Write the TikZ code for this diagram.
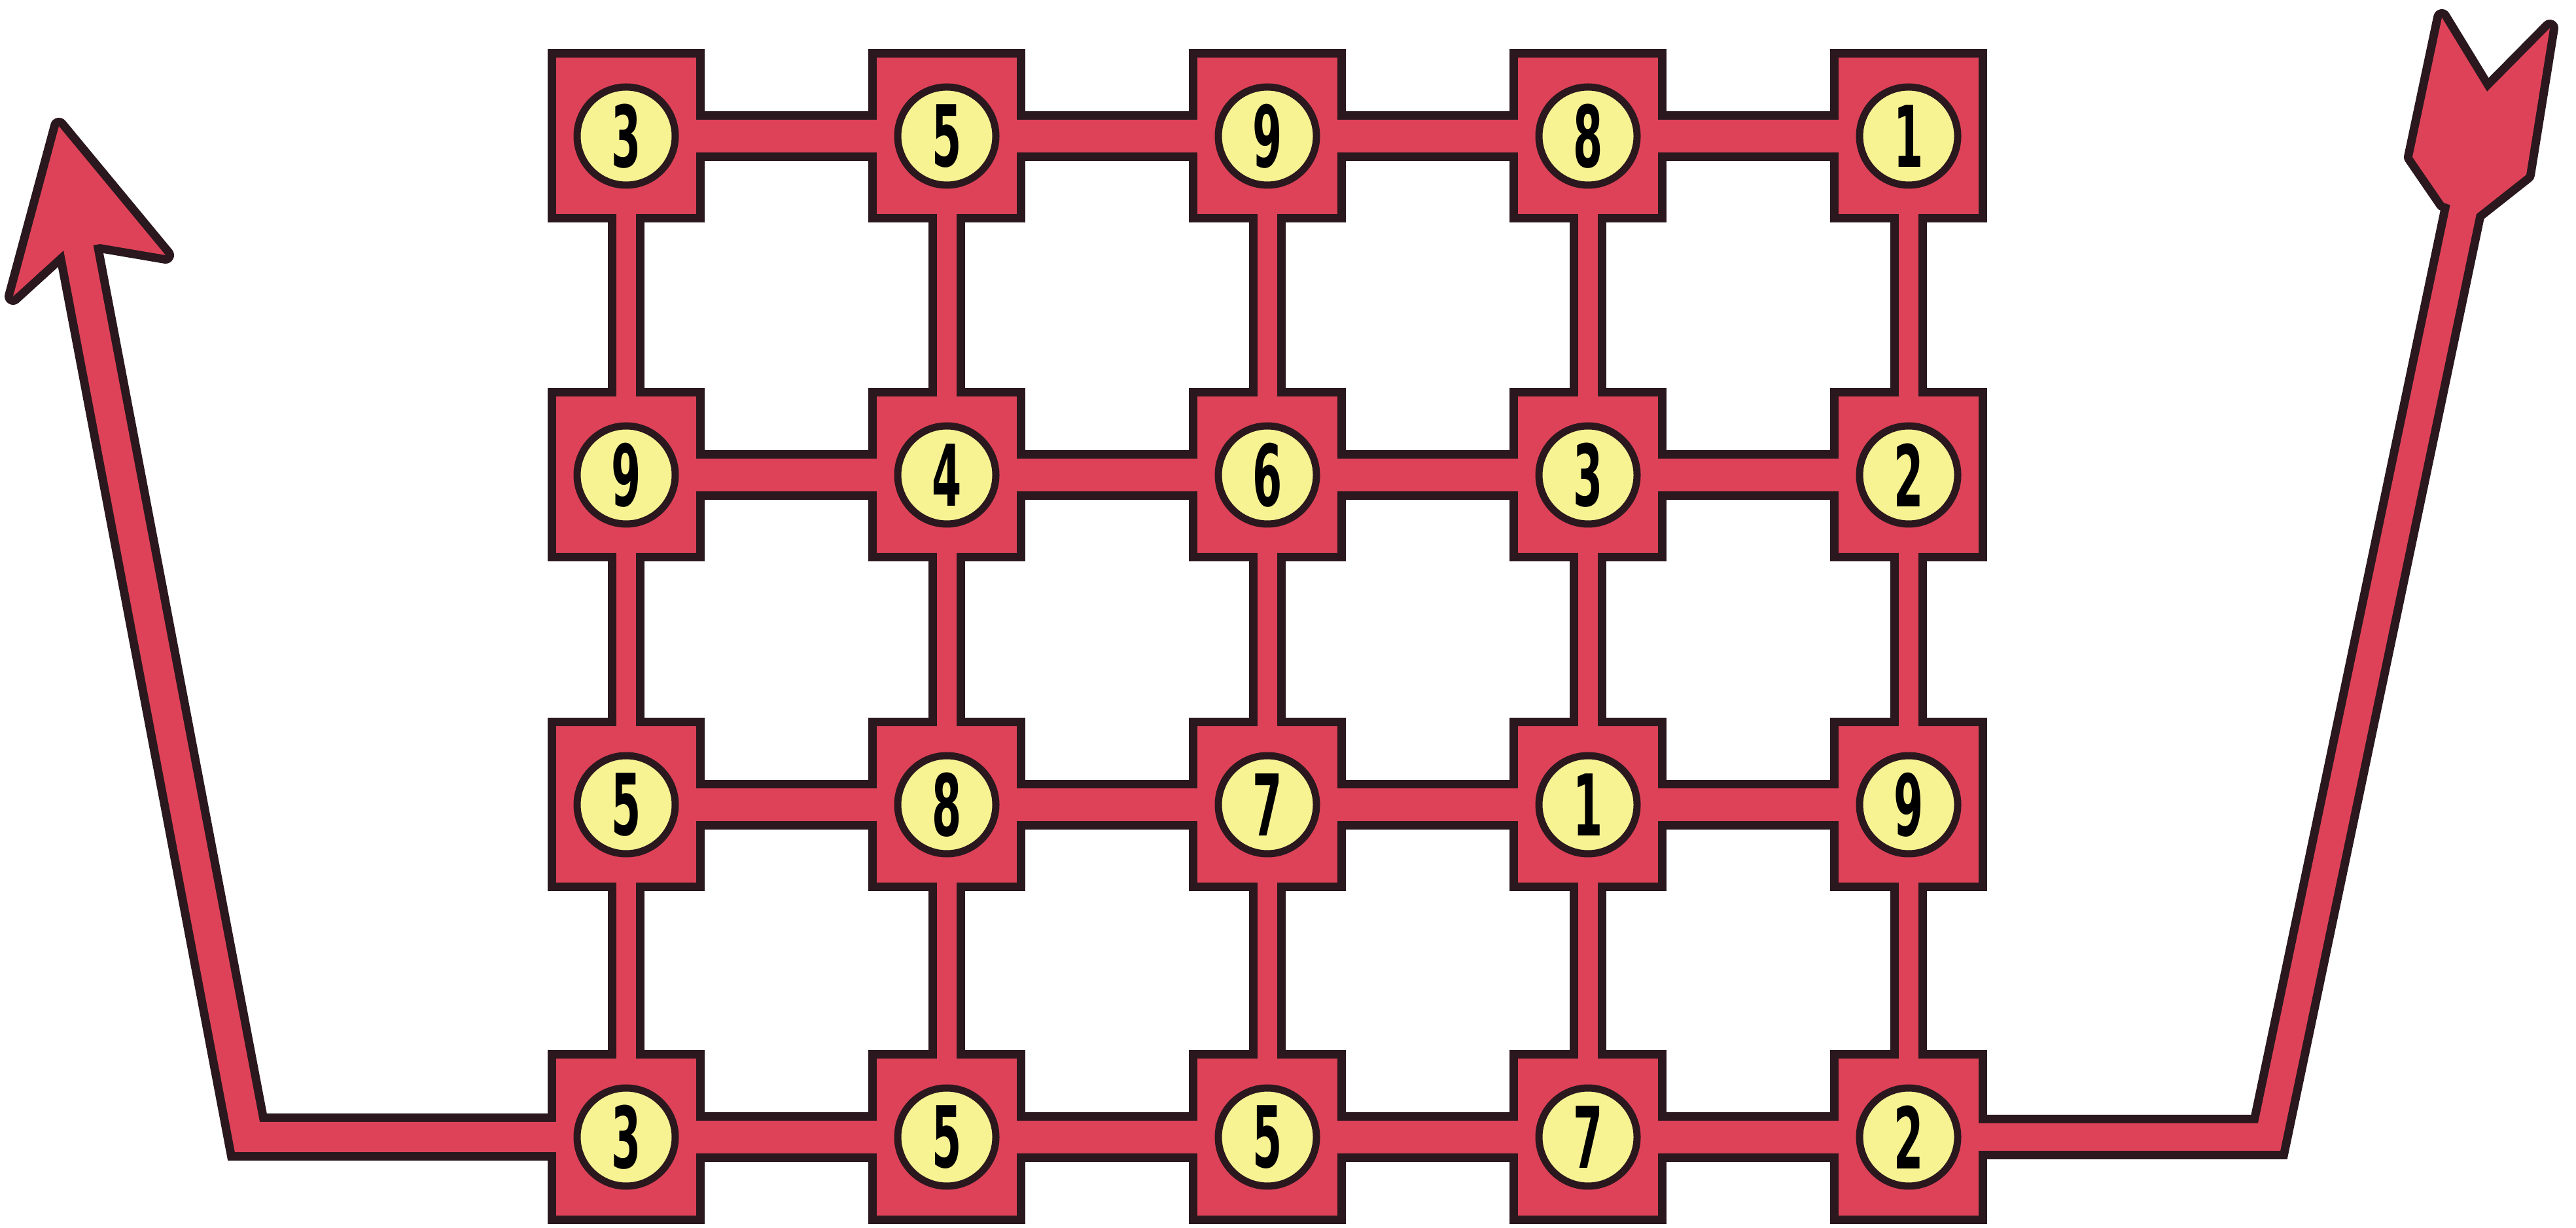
\documentclass[tikz,border=0pt]{standalone}
\usepackage{fontspec}
\newfontfamily\digitfont{DejaVu Sans}

\definecolor{boardred}{RGB}{222,66,88}
\definecolor{edgedark}{RGB}{42,24,30}
\definecolor{discyellow}{RGB}{247,242,146}

\newcommand{\slim}[1]{\scalebox{0.5}[1]{#1}}

\tikzset{
    cell/.style={rectangle, draw=edgedark, line width=1.3mm, fill=boardred,
        minimum width=2.27cm, minimum height=2.52cm, inner sep=0pt, outer sep=0pt,
        font=\digitfont\bfseries\fontsize{37}{37}\selectfont,
        path picture={\draw[edgedark, line width=1.1mm, fill=discyellow]
            (path picture bounding box.center) circle (0.75cm);}},
    hrimout/.style={edgedark, line width=7.6mm},
    hrim/.style={boardred, line width=5mm, shorten <=-0.7mm, shorten >=-0.7mm},
    vrimout/.style={edgedark, line width=5.6mm},
    vrim/.style={boardred, line width=3mm, shorten <=-0.7mm, shorten >=-0.7mm},
    shaftout/.style={edgedark, line width=#1, line join=miter},
    shaft/.style={boardred, line width=#1, line join=miter, shorten <=-0.7mm},
}

\begin{document}
\begin{tikzpicture}
    \fill[white] (0,0) rectangle (39.37,18.76);
    \useasboundingbox (0,0) rectangle (39.37,18.76);

    % the board
    \foreach \r/\y/\digits in {1/16.68/{3,5,9,8,1}, 2/11.50/{9,4,6,3,2},
                               3/6.46/{5,8,7,1,9}, 4/1.38/{3,5,5,7,2}} {
        \foreach \d [count=\c] in \digits {
            \node[cell] (c\r\c) at ({9.57+4.9*(\c-1)},\y) {\slim{\d}};
        }
    }

    \coordinate (lbend) at (3.78,1.38);
    \coordinate (lshaft) at (1.155,15.2);
    \coordinate (rbend) at (34.68,1.38);
    \coordinate (rshaft) at (37.74,16.0);

    % outlines first
    \foreach \r in {1,...,4}
        \foreach \c/\n in {1/2,2/3,3/4,4/5}
            \draw[hrimout] (c\r\c) -- (c\r\n);
    \foreach \c in {1,...,5}
        \foreach \r/\s in {1/2,2/3,3/4}
            \draw[vrimout] (c\r\c) -- (c\s\c);
    \draw[shaftout=7.2mm] (c41) -- (lbend) -- (lshaft);
    \draw[shaftout=6.8mm] (c45) -- (rbend) -- (rshaft);
    \draw[edgedark, line width=2.6mm, line join=round]
        (0.90,16.83) -- (2.53,14.86) -- (1.53,15.03) -- (0.97,14.93) -- (0.20,14.23) -- cycle;
    \draw[edgedark, line width=2.6mm, line join=round]
        (37.35,15.66) -- (36.87,16.36) -- (37.32,18.49) -- (38.01,17.36)
        -- (38.97,18.33) -- (38.61,16.09) -- (37.85,15.49) -- cycle;

    % red on top
    \fill[boardred]
        (0.90,16.83) -- (2.53,14.86) -- (1.53,15.03) -- (0.97,14.93) -- (0.20,14.23) -- cycle;
    \fill[boardred]
        (37.35,15.66) -- (36.87,16.36) -- (37.32,18.49) -- (38.01,17.36)
        -- (38.97,18.33) -- (38.61,16.09) -- (37.85,15.49) -- cycle;
    \foreach \r in {1,...,4}
        \foreach \c/\n in {1/2,2/3,3/4,4/5}
            \draw[hrim] (c\r\c) -- (c\r\n);
    \foreach \c in {1,...,5}
        \foreach \r/\s in {1/2,2/3,3/4}
            \draw[vrim] (c\r\c) -- (c\s\c);
    \draw[shaft=4.6mm] (c41) -- (lbend) -- (lshaft);
    \draw[shaft=4.2mm] (c45) -- (rbend) -- (rshaft);
\end{tikzpicture}
\end{document}
